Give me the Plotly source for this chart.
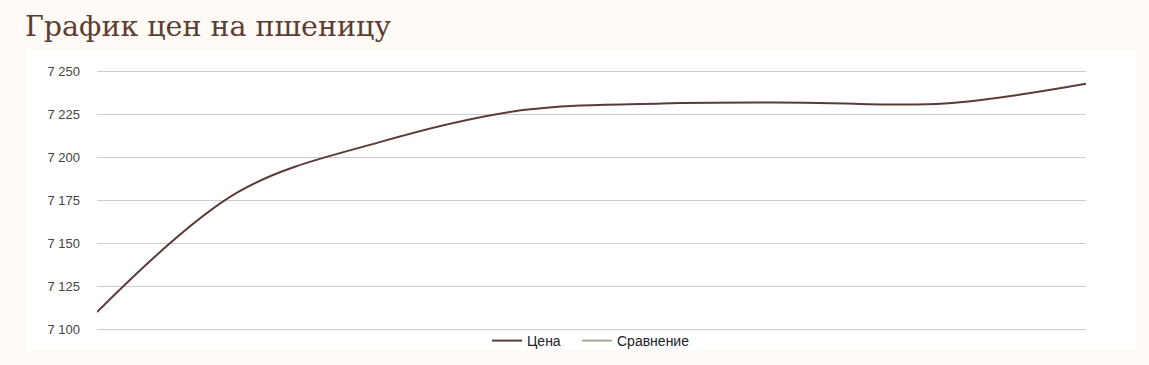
import plotly.graph_objects as go

# Data
points = [0, 1, 2, 3, 4, 5, 6, 7]
price = [7110, 7180, 7209, 7227.5, 7231.5, 7232, 7231.5, 7243]
comparison = [None, None, None, None, None, None, None, None]
y_ticks = [7100, 7125, 7150, 7175, 7200, 7225, 7250]

W, H = 1149, 365
L, R, T, B = 97, 63, 70, 34
pw, ph = W - L - R, H - T - B

def px_x(x):
    return (x - L) / pw

def px_y(y):
    return (H - B - y) / ph

fig = go.Figure()
fig.add_trace(go.Scatter(
    x=points, y=price, name="Цена", mode="lines",
    line=dict(color="#5a3b38", width=2, shape="spline", smoothing=1.0),
    hoverinfo="skip", legend="legend",
))
fig.add_trace(go.Scatter(
    x=points, y=comparison, name="Сравнение", mode="lines",
    line=dict(color="#a4a88f", width=2),
    hoverinfo="skip", showlegend=True, legend="legend2",
))

fig.add_shape(type="rect", xref="paper", yref="paper", layer="below",
              x0=px_x(26), x1=px_x(1136), y0=px_y(350), y1=px_y(50),
              fillcolor="#ffffff", line=dict(width=0))

legend_common = dict(orientation="h", xanchor="left", y=px_y(341), yanchor="middle",
                     font=dict(size=14, color="#222222"), bgcolor="rgba(0,0,0,0)")

fig.update_layout(
    width=W, height=H,
    margin=dict(l=L, r=R, t=T, b=B, pad=0, autoexpand=False),
    paper_bgcolor="#fffaf6",
    plot_bgcolor="#ffffff",
    separators=". ",
    font=dict(family="Liberation Sans, Arial, sans-serif", size=13, color="#444444"),
    title=dict(text="График цен на пшеницу", x=25 / W, xref="container", xanchor="left",
               y=1 - 26 / H, yanchor="middle", yref="container",
               font=dict(family="DejaVu Serif, serif", size=28.5, color="#5b3d33")),
    xaxis=dict(range=[points[0], points[-1]], showgrid=False, zeroline=False,
               showticklabels=False, ticks="", showline=False, fixedrange=True),
    yaxis=dict(range=[y_ticks[0] - 1, y_ticks[-1] + 1], tickvals=y_ticks, tickformat=",d",
               showgrid=True, gridcolor="#cccccc", gridwidth=1, zeroline=False,
               showline=False, ticks="", ticklabelstandoff=16,
               tickfont=dict(size=13, color="#444444")),
    legend=dict(x=px_x(487), **legend_common),
    legend2=dict(x=px_x(577), **legend_common),
    showlegend=True,
)

fig.write_html("out.html")
